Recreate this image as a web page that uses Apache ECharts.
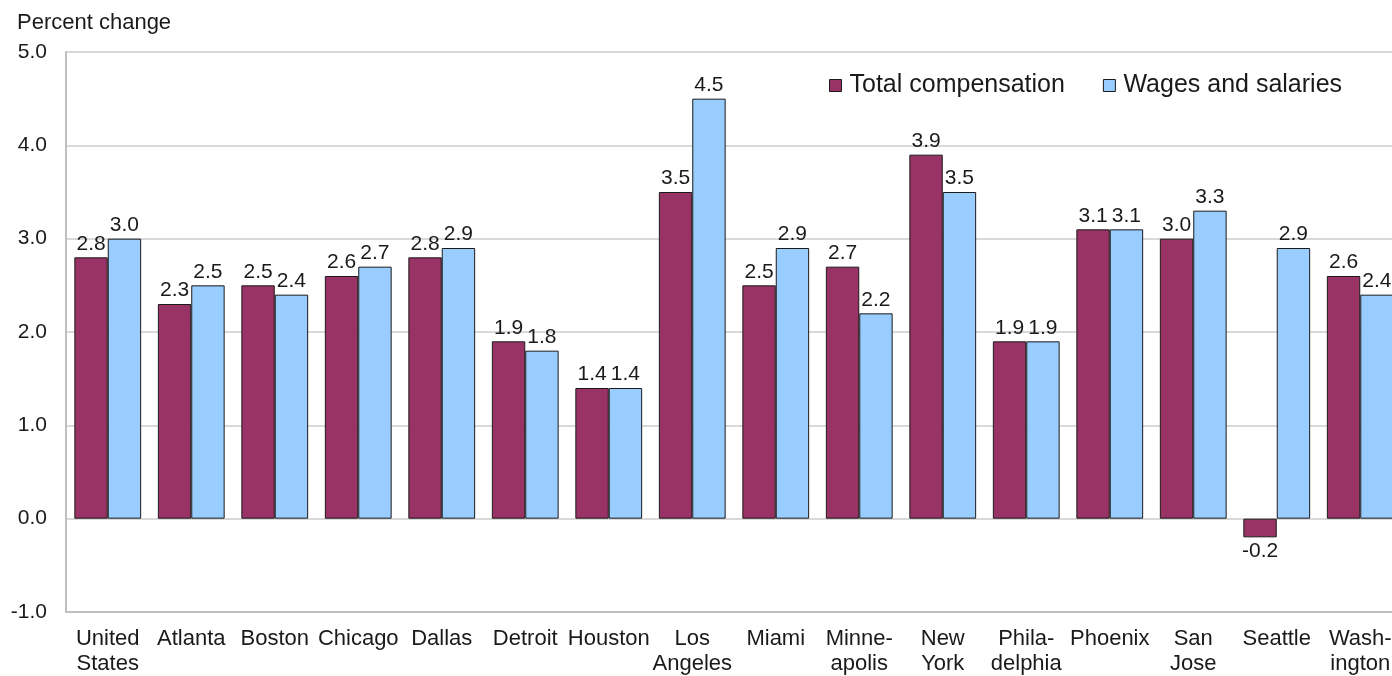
<!DOCTYPE html>
<html>
<head>
<meta charset="utf-8">
<title>Compensation by metro area</title>
<script src="https://cdn.jsdelivr.net/npm/echarts@6/dist/echarts.min.js"></script>
<style>
  html, body { margin: 0; padding: 0; background: #fff; overflow: hidden; }
  /* the plot runs a little past the right edge of the window, as in the source */
  #chart { width: 1402px; height: 676px; }
</style>
</head>
<body>
<div id="chart"></div>
<script>
// areas along the x axis
const areas = [
  'United\nStates', 'Atlanta', 'Boston', 'Chicago', 'Dallas', 'Detroit', 'Houston',
  'Los\nAngeles', 'Miami', 'Minne-\napolis', 'New\nYork', 'Phila-\ndelphia',
  'Phoenix', 'San\nJose', 'Seattle', 'Wash-\nington'
]
const totalComp = [2.8, 2.3, 2.5, 2.6, 2.8, 1.9, 1.4, 3.5, 2.5, 2.7, 3.9, 1.9, 3.1, 3.0, -0.2, 2.6]
const wagesSal = [3.0, 2.5, 2.4, 2.7, 2.9, 1.8, 1.4, 4.5, 2.9, 2.2, 3.5, 1.9, 3.1, 3.3, 2.9, 2.4]
const yTicks = { min: -1, max: 5, step: 1 }

const font = 'Liberation Sans, Arial, sans-serif'

// negative values get their label under the bar
const withLabels = vals => vals.map(v => v < 0 ? { value: v, label: { position: 'bottom' } } : v)

const barSeries = (name, vals, color) => ({
  name,
  type: 'bar',
  data: withLabels(vals),
  barGap: '0%',
  barCategoryGap: '20%',
  itemStyle: { color, borderColor: '#1a1a1a', borderWidth: 1 },
  label: {
    show: true,
    position: 'top',
    distance: 3,
    color: '#1a1a1a',
    fontFamily: font,
    fontSize: 21,
    formatter: p => p.value.toFixed(1)
  }
})

const chart = echarts.init(document.getElementById('chart'))
chart.setOption({
  animation: false,
  textStyle: { fontFamily: font },
  graphic: [{
    type: 'text',
    left: 17,
    top: 12,
    style: { text: 'Percent change', font: '22px ' + font, fill: '#1a1a1a' }
  }],
  legend: {
    left: 829,
    top: 73,
    padding: 0,
    itemWidth: 12,
    itemHeight: 12,
    itemGap: 38,
    icon: 'rect',
    itemStyle: { borderColor: '#1a1a1a', borderWidth: 1 },
    textStyle: { fontSize: 25, color: '#1a1a1a', fontFamily: font, padding: [0, 0, 0, 3] },
    data: ['Total compensation', 'Wages and salaries']
  },
  grid: { left: 66, right: 0, top: 52, bottom: 63 },
  xAxis: {
    type: 'category',
    data: areas,
    axisLine: { show: true, onZero: false, lineStyle: { color: '#bfbfbf', width: 2 } },
    axisTick: { show: false },
    axisLabel: {
      interval: 0,
      margin: 14,
      color: '#1a1a1a',
      fontSize: 22,
      lineHeight: 25,
      fontFamily: font
    }
  },
  yAxis: {
    type: 'value',
    min: yTicks.min,
    max: yTicks.max,
    interval: yTicks.step,
    axisLine: { show: true, lineStyle: { color: '#bfbfbf', width: 2 } },
    axisTick: { show: false },
    splitLine: { lineStyle: { color: '#d9d9d9', width: 2 } },
    axisLabel: {
      margin: 19,
      color: '#1a1a1a',
      fontSize: 21,
      fontFamily: font,
      formatter: v => v.toFixed(1)
    }
  },
  series: [
    barSeries('Total compensation', totalComp, '#993366'),
    barSeries('Wages and salaries', wagesSal, '#99ccff')
  ]
})
</script>
</body>
</html>
